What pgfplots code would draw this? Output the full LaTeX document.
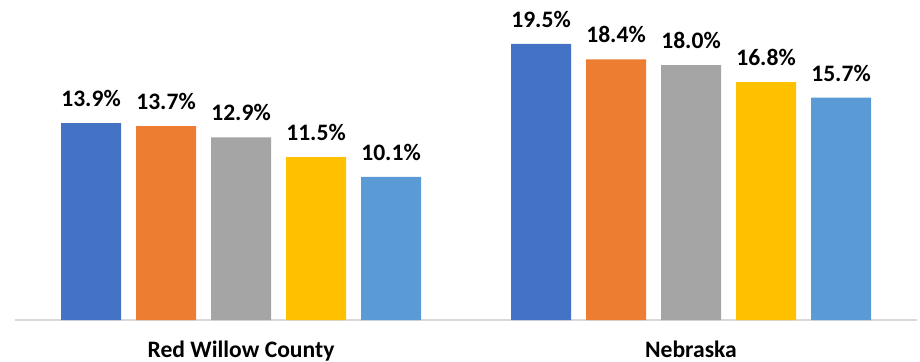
\documentclass[border=0pt]{standalone}
\usepackage{pgfplots}
\pgfplotsset{compat=1.18}
\usepackage{fontspec}
\setmainfont{Carlito}
\definecolor{c1}{HTML}{4472C4}
\definecolor{c2}{HTML}{ED7D31}
\definecolor{c3}{HTML}{A5A5A5}
\definecolor{c4}{HTML}{FFC000}
\definecolor{c5}{HTML}{5B9BD5}
\definecolor{axl}{HTML}{D9D9D9}
\begin{document}
\begin{tikzpicture}
\useasboundingbox (0,0) rectangle (460pt,180.5pt);
\begin{axis}[
  at={(7.5pt,20.5pt)}, anchor=south west,
  scale only axis, width=451pt, height=160pt,
  xmin=15, xmax=917, ymin=0, ymax=22.6,
  axis x line=bottom, axis y line=none,
  x axis line style={-, draw=axl, line width=1pt},
  xtick=\empty, ytick=\empty,
  clip=false,
  ybar, bar width=60,
  /pgf/number format/assume math mode=true,
  font=\fontsize{11.8pt}{14pt}\selectfont\bfseries,
  nodes near coords={\pgfmathprintnumber[fixed,fixed zerofill,precision=1,assume math mode=true]{\pgfplotspointmeta}\%},
  every node near coord/.append style={anchor=base, yshift=8.3pt, inner sep=0pt, font=\fontsize{11.8pt}{14pt}\selectfont\bfseries, text=black},
]
\addplot[fill=c1, draw=none, bar shift=0pt] coordinates {(91,13.9) (541,19.5)};
\addplot[fill=c2, draw=none, bar shift=0pt] coordinates {(166,13.7) (616,18.4)};
\addplot[fill=c3, draw=none, bar shift=0pt] coordinates {(241,12.9) (691,18.0)};
\addplot[fill=c4, draw=none, bar shift=0pt] coordinates {(316,11.5) (766,16.8)};
\addplot[fill=c5, draw=none, bar shift=0pt] coordinates {(391,10.1) (841,15.7)};
\node[anchor=base, inner sep=0pt, font=\fontsize{11.8pt}{14pt}\selectfont\bfseries] at (axis cs:241,-2.62) {Red Willow County};
\node[anchor=base, inner sep=0pt, font=\fontsize{11.8pt}{14pt}\selectfont\bfseries] at (axis cs:691,-2.62) {Nebraska};
\end{axis}
\end{tikzpicture}
\end{document}
